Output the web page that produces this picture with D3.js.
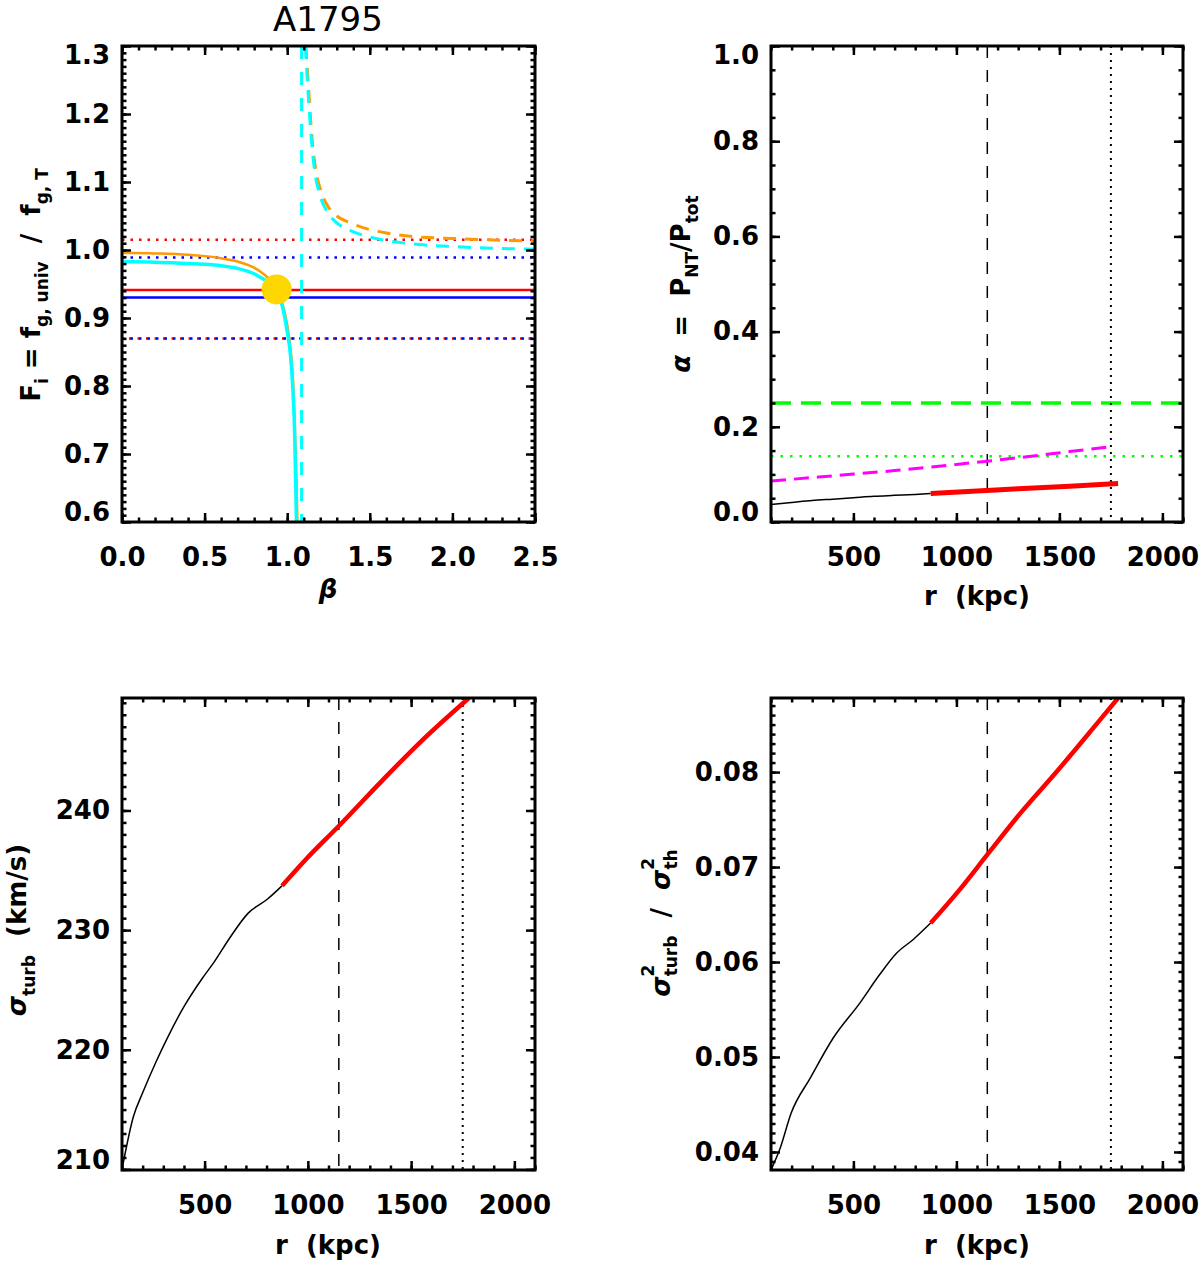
<!DOCTYPE html>
<html>
<head>
<meta charset="utf-8">
<script src="https://cdn.jsdelivr.net/npm/d3@7"></script>
<style>
  body { margin: 0; background: #fff; }
  svg text { font-family: "DejaVu Sans", sans-serif; }
</style>
</head>
<body>
<div id="chart"></div>
<script>
// ---- top-left: F_i against beta ----
const betaOrange = [0, 0.2, 0.4, 0.5, 0.6, 0.7, 0.8, 0.85, 0.9, 0.936, 0.97, 1.0, 1.02, 1.035, 1.045, 1.055, 1.062];
const fOrange    = [0.996, 0.995, 0.993, 0.991, 0.988, 0.983, 0.974, 0.966, 0.955, 0.942, 0.922, 0.89, 0.855, 0.81, 0.75, 0.67, 0.6];
const betaCyan   = [0, 0.2, 0.4, 0.5, 0.6, 0.7, 0.8, 0.85, 0.9, 0.936, 0.97, 1.0, 1.02, 1.033, 1.045, 1.052, 1.056];
const fCyan      = [0.983, 0.982, 0.980, 0.979, 0.977, 0.973, 0.965, 0.958, 0.950, 0.942, 0.918, 0.88, 0.845, 0.80, 0.73, 0.65, 0.6];
const betaOrangeDash = [1.113, 1.13, 1.15, 1.175, 1.2, 1.25, 1.3, 1.38, 1.5, 1.6, 1.8, 2.0, 2.2, 2.5];
const fOrangeDash    = [1.30, 1.235, 1.165, 1.115, 1.09, 1.063, 1.050, 1.040, 1.030, 1.025, 1.019, 1.017, 1.015, 1.013];
const betaCyanDash   = [1.11, 1.127, 1.147, 1.17, 1.195, 1.245, 1.3, 1.38, 1.5, 1.6, 1.8, 2.0, 2.2, 2.5];
const fCyanDash      = [1.30, 1.23, 1.16, 1.11, 1.083, 1.055, 1.040, 1.029, 1.019, 1.014, 1.008, 1.005, 1.003, 1.001];
const betaPole = 1.087;
const fRedSolid = 0.941, fBlueSolid = 0.930;
const fRedDotHi = 1.015, fBlueDotHi = 0.989, fDotLow = 0.870;
const betaCross = 0.936, fCross = 0.942;

// ---- top-right: alpha = P_NT / P_tot ----
const rAlphaIn  = [100, 200, 300, 400, 500, 600, 700, 800, 875];
const alphaIn   = [0.037, 0.041, 0.045, 0.048, 0.051, 0.054, 0.056, 0.058, 0.060];
const rAlphaOut = [875, 1100, 1300, 1550, 1785];
const alphaOut  = [0.060, 0.065, 0.070, 0.075, 0.081];
const rMagenta  = [100, 400, 700, 1000, 1300, 1550, 1747];
const alphaMagenta = [0.086, 0.097, 0.108, 0.121, 0.135, 0.148, 0.158];
const alphaGreenDash = 0.25, alphaGreenDot = 0.138;

// ---- bottom-left: sigma_turb ----
const rSigIn    = [100, 155, 200, 265, 320, 400, 490, 545, 620, 710, 805, 875];
const sigmaIn   = [210.0, 214.4, 216.4, 219.0, 221.0, 223.6, 226.0, 227.3, 229.3, 231.4, 232.6, 233.7];
const rSigOut   = [875, 990, 1150, 1360, 1550, 1780];
const sigmaOut  = [233.7, 235.9, 238.7, 242.5, 245.8, 249.4];

// ---- bottom-right: sigma_turb^2 / sigma_th^2 ----
const rRatIn    = [100, 143, 198, 291, 402, 532, 625, 708, 792, 875];
const ratioIn   = [0.0381, 0.0403, 0.0441, 0.0478, 0.0520, 0.0557, 0.0586, 0.0609, 0.0624, 0.0641];
const rRatOut   = [875, 1015, 1150, 1312, 1497, 1682, 1785];
const ratioOut  = [0.0641, 0.0676, 0.0713, 0.0757, 0.0803, 0.0851, 0.0878];

// radii marked by vertical lines
const rDashed = 1150, rDotted = 1750;

const svg = d3.select("#chart").append("svg")
  .attr("width", 1200)
  .attr("height", 1264);

let clipId = 0;

// ticks on a fixed step inside a domain
function tickVals(dom, step) {
  const a = Math.ceil(dom[0] / step - 1e-6), b = Math.floor(dom[1] / step + 1e-6);
  return d3.range(a, b + 1).map(i => +(i * step).toFixed(6));
}

function makePanel(c) {
  const w = c.x1 - c.x0, h = c.y1 - c.y0;
  const g = svg.append("g").attr("transform", `translate(${c.x0},${c.y0})`);
  const x = d3.scaleLinear().domain(c.xDomain).range([0, w]);
  const y = d3.scaleLinear().domain(c.yDomain).range([h, 0]);
  const id = "clip" + (clipId++);
  g.append("clipPath").attr("id", id).append("rect").attr("width", w).attr("height", h);
  const plot = g.append("g").attr("clip-path", `url(#${id})`);
  return { c, g, plot, x, y, w, h };
}

function axisGroup(g, axisFn, scale, values, size, tr, fmt, pad) {
  const ax = axisFn(scale).tickValues(values).tickSize(size).tickPadding(pad || 3)
    .tickFormat(fmt || (() => ""));
  const a = g.append("g").call(ax);
  if (tr) a.attr("transform", tr);
  a.select(".domain").remove();
  a.attr("font-family", null).attr("font-size", null);
  a.selectAll(".tick line").attr("stroke", "#000").attr("stroke-width", 2.5);
  a.selectAll(".tick text").attr("fill", "#000").attr("font-size", 26).attr("font-weight", "bold");
  return a;
}

// IDL-style box: inward ticks on all four sides, labels bottom and left
function drawFrame(p) {
  const { c, g, x, y, w, h } = p;
  const xMin = tickVals(c.xDomain, c.xMinor), xMaj = tickVals(c.xDomain, c.xMajor);
  const yMin = tickVals(c.yDomain, c.yMinor), yMaj = tickVals(c.yDomain, c.yMajor);

  axisGroup(g, d3.axisBottom, x, xMin, -4.5, `translate(0,${h})`);
  axisGroup(g, d3.axisTop, x, xMin, -4.5);
  axisGroup(g, d3.axisLeft, y, yMin, -4.5);
  axisGroup(g, d3.axisRight, y, yMin, -4.5, `translate(${w},0)`);

  axisGroup(g, d3.axisBottom, x, xMaj.filter(v => c.xLabels.includes(v)), -9, `translate(0,${h})`, c.xFmt, 26);
  axisGroup(g, d3.axisTop, x, xMaj, -9);
  const yl = axisGroup(g, d3.axisLeft, y, yMaj, -9, null, c.yFmt, 12);
  axisGroup(g, d3.axisRight, y, yMaj, -9, `translate(${w},0)`);

  // keep the end labels inside the box, as in the original
  yl.selectAll(".tick").each(function (d) {
    const ty = y(d);
    const off = Math.max(0, 9.5 - ty) - Math.max(0, ty - (h - 9.5));
    d3.select(this).select("text").attr("y", off);
  });

  g.append("rect")
    .attr("width", w).attr("height", h)
    .attr("fill", "none").attr("stroke", "#000").attr("stroke-width", 3);
}

function lineOf(p, xs, ys, stroke, width, dash) {
  const pts = xs.map((v, i) => [v, ys[i]]);
  const path = p.plot.append("path")
    .datum(pts)
    .attr("fill", "none")
    .attr("stroke", stroke)
    .attr("stroke-width", width)
    .attr("d", d3.line().x(d => p.x(d[0])).y(d => p.y(d[1])).curve(d3.curveMonotoneX));
  if (dash) path.attr("stroke-dasharray", dash);
  return path;
}

function hLine(p, v, stroke, width, dash, offset) {
  const l = p.plot.append("line")
    .attr("x1", 0).attr("x2", p.w)
    .attr("y1", p.y(v)).attr("y2", p.y(v))
    .attr("stroke", stroke).attr("stroke-width", width);
  if (dash) l.attr("stroke-dasharray", dash);
  if (offset) l.attr("stroke-dashoffset", offset);
}

function vLine(p, v, stroke, width, dash) {
  const l = p.plot.append("line")
    .attr("x1", p.x(v)).attr("x2", p.x(v))
    .attr("y1", 0).attr("y2", p.h)
    .attr("stroke", stroke).attr("stroke-width", width);
  if (dash) l.attr("stroke-dasharray", dash);
}

// text made of parts with baseline shifts (sub/superscripts)
function richText(x, y, rotate, parts, size) {
  const t = svg.append("text")
    .attr("transform", `translate(${x},${y})` + (rotate ? " rotate(-90)" : ""))
    .attr("text-anchor", "middle")
    .attr("font-weight", "bold")
    .attr("fill", "#000")
    .style("white-space", "pre");
  let cur = 0;
  parts.forEach(pt => {
    const s = t.append("tspan")
      .attr("font-size", pt.size || size || 26)
      .attr("dy", (pt.shift || 0) - cur)
      .text(pt.t);
    if (pt.dx) s.attr("dx", pt.dx);
    if (pt.italic) s.attr("font-style", "italic");
    cur = pt.shift || 0;
  });
  return t;
}

const SUB = 8, SS = 17;

// ================= top-left =================
const tl = makePanel({
  x0: 122, x1: 535, y0: 46, y1: 522,
  xDomain: [0, 2.5], yDomain: [0.6, 1.3],
  xMajor: 0.5, xMinor: 0.1, yMajor: 0.1, yMinor: 0.01,
  xLabels: [0, 0.5, 1, 1.5, 2, 2.5],
  xFmt: d3.format(".1f"), yFmt: d3.format(".1f")
});
hLine(tl, fRedDotHi, "#ff0000", 2.5, "2.5,6");
hLine(tl, fBlueDotHi, "#0000ff", 2.5, "2.5,6");
hLine(tl, fDotLow, "#ff0000", 2.5, "2.5,6", 1.5);
hLine(tl, fDotLow, "#0000ff", 2.5, "2.5,6");
hLine(tl, fRedSolid, "#ff0000", 2.5);
hLine(tl, fBlueSolid, "#0000ff", 2.5);
lineOf(tl, betaOrange, fOrange, "#ff9900", 2.5);
lineOf(tl, betaCyan, fCyan, "#00ffff", 3.5);
lineOf(tl, betaOrangeDash, fOrangeDash, "#ff9900", 3, "13,9");
lineOf(tl, betaCyanDash, fCyanDash, "#00ffff", 3, "13,9");
vLine(tl, betaPole, "#00ffff", 3, "13,13");
tl.plot.append("circle")
  .attr("cx", tl.x(betaCross)).attr("cy", tl.y(fCross)).attr("r", 15)
  .attr("fill", "#ffd700");
drawFrame(tl);

svg.append("text")
  .attr("x", 328).attr("y", 31)
  .attr("text-anchor", "middle")
  .attr("font-size", 34).attr("fill", "#000")
  .text("A1795");
richText(328, 598, false, [{ t: "β", italic: true }]);
richText(40, 285, true, [
  { t: "F" }, { t: "i", size: SS, shift: SUB },
  { t: " = f" }, { t: "g, univ", size: SS, shift: SUB },
  { t: "  /  f" }, { t: "g, T", size: SS, shift: SUB }
]);

// ================= top-right =================
const rFmt = d3.format("d");
const tr = makePanel({
  x0: 771, x1: 1183, y0: 46, y1: 522,
  xDomain: [100, 2100], yDomain: [0, 1],
  xMajor: 500, xMinor: 100, yMajor: 0.2, yMinor: 0.05,
  xLabels: [500, 1000, 1500, 2000],
  xFmt: rFmt, yFmt: d3.format(".1f")
});
hLine(tr, alphaGreenDash, "#00ff00", 3.5, "20,10");
hLine(tr, alphaGreenDot, "#00ff00", 2.5, "2.5,7");
vLine(tr, rDashed, "#000", 1.5, "12,12");
vLine(tr, rDotted, "#000", 2, "2,5");
lineOf(tr, rMagenta, alphaMagenta, "#ff00ff", 3, "15,8");
lineOf(tr, rAlphaIn, alphaIn, "#000", 1.5);
lineOf(tr, rAlphaOut, alphaOut, "#ff0000", 5);
drawFrame(tr);

richText(977, 605, false, [{ t: "r  (kpc)" }]);
richText(690, 284, true, [
  { t: "α", italic: true }, { t: "  =  P" },
  { t: "NT", size: SS, shift: SUB }, { t: "/P" },
  { t: "tot", size: SS, shift: SUB }
]);

// ================= bottom-left =================
const bl = makePanel({
  x0: 122, x1: 535, y0: 698, y1: 1170,
  xDomain: [100, 2100], yDomain: [209.95, 249.4],
  xMajor: 500, xMinor: 100, yMajor: 10, yMinor: 1,
  xLabels: [500, 1000, 1500, 2000],
  xFmt: rFmt, yFmt: d3.format("d")
});
vLine(bl, rDashed, "#000", 1.5, "12,12");
vLine(bl, rDotted, "#000", 2, "2,5");
lineOf(bl, rSigIn, sigmaIn, "#000", 1.5);
lineOf(bl, rSigOut, sigmaOut, "#ff0000", 4.5);
drawFrame(bl);

richText(328, 1254, false, [{ t: "r  (kpc)" }]);
richText(26, 930, true, [
  { t: "σ", italic: true }, { t: "turb", size: SS, shift: 9 },
  { t: "  (km/s)" }
]);

// ================= bottom-right =================
const br = makePanel({
  x0: 771, x1: 1183, y0: 698, y1: 1170,
  xDomain: [100, 2100], yDomain: [0.0381, 0.0878],
  xMajor: 500, xMinor: 100, yMajor: 0.01, yMinor: 0.001,
  xLabels: [500, 1000, 1500, 2000],
  xFmt: rFmt, yFmt: d3.format(".2f")
});
vLine(br, rDashed, "#000", 1.5, "12,12");
vLine(br, rDotted, "#000", 2, "2,5");
lineOf(br, rRatIn, ratioIn, "#000", 1.5);
lineOf(br, rRatOut, ratioOut, "#ff0000", 4.5);
drawFrame(br);

richText(977, 1254, false, [{ t: "r  (kpc)" }]);
richText(670, 923, true, [
  { t: "σ", italic: true }, { t: "2", size: SS, shift: -16 },
  { t: "turb", size: SS, shift: 7, dx: -11.8 },
  { t: "  /  " },
  { t: "σ", italic: true }, { t: "2", size: SS, shift: -16 },
  { t: "th", size: SS, shift: 7, dx: -11.8 }
]);
</script>
</body>
</html>
